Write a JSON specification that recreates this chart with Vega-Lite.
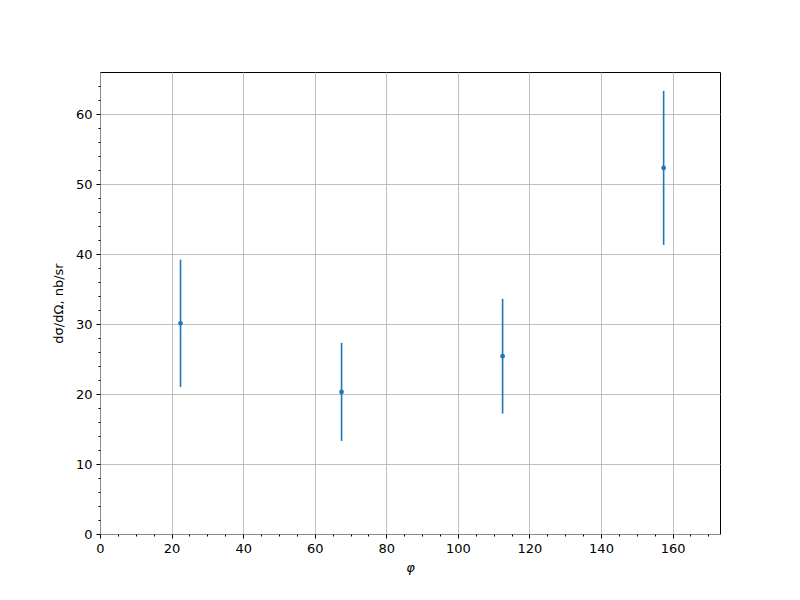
{
  "$schema": "https://vega.github.io/schema/vega-lite/v6.json",
  "width": 620,
  "height": 462,
  "autosize": {"type": "none"},
  "padding": {"left": 100, "top": 72, "right": 80, "bottom": 66},
  "background": "white",
  "config": {
    "view": {"stroke": "black", "strokeWidth": 1},
    "axis": {
      "labelFont": "DejaVu Sans",
      "titleFont": "DejaVu Sans",
      "labelFontSize": 13,
      "titleFontSize": 13,
      "titleFontWeight": "normal",
      "labelColor": "black",
      "titleColor": "black",
      "labelFlush": false,
      "domain": false,
      "tickColor": "black",
      "gridColor": "#b0b0b0",
      "gridWidth": 0.8
    }
  },
  "data": {
    "values": [
      {"phi": 22.5, "xs": 30.1, "err": 9.1},
      {"phi": 67.5, "xs": 20.3, "err": 7.0},
      {"phi": 112.5, "xs": 25.4, "err": 8.2},
      {"phi": 157.5, "xs": 52.3, "err": 11.0}
    ]
  },
  "transform": [
    {"calculate": "datum.xs - datum.err", "as": "lo"},
    {"calculate": "datum.xs + datum.err", "as": "hi"}
  ],
  "resolve": {"axis": {"x": "independent", "y": "independent"}},
  "layer": [
    {
      "mark": {"type": "rule", "color": "#1f77b4", "strokeWidth": 1.6},
      "encoding": {
        "x": {
          "field": "phi", "type": "quantitative",
          "scale": {"domain": [0, 173.25], "nice": false, "zero": false},
          "axis": {
            "orient": "bottom",
            "values": [0, 20, 40, 60, 80, 100, 120, 140, 160],
            "title": "φ",
            "titleFontStyle": "italic",
            "titlePadding": 6,
            "tickSize": 4,
            "labelPadding": 4,
            "grid": true,
            "format": "d"
          }
        },
        "y": {
          "field": "lo", "type": "quantitative",
          "scale": {"domain": [0, 66], "nice": false},
          "axis": {
            "orient": "left",
            "values": [0, 10, 20, 30, 40, 50, 60],
            "title": "dσ/dΩ, nb/sr",
            "titlePadding": 10,
            "tickSize": 4,
            "labelPadding": 4,
            "grid": true,
            "format": "d"
          }
        },
        "y2": {"field": "hi"}
      }
    },
    {
      "mark": {"type": "point", "filled": true, "size": 22, "color": "#1f77b4", "opacity": 1},
      "encoding": {
        "x": {
          "field": "phi", "type": "quantitative",
          "axis": {
            "orient": "bottom",
            "values": [5, 10, 15, 25, 30, 35, 45, 50, 55, 65, 70, 75, 85, 90, 95, 105, 110, 115, 125, 130, 135, 145, 150, 155, 165, 170],
            "labels": false,
            "title": null,
            "tickSize": 2,
            "grid": false
          }
        },
        "y": {
          "field": "xs", "type": "quantitative",
          "axis": {
            "orient": "left",
            "values": [2, 4, 6, 8, 12, 14, 16, 18, 22, 24, 26, 28, 32, 34, 36, 38, 42, 44, 46, 48, 52, 54, 56, 58, 62, 64],
            "labels": false,
            "title": null,
            "tickSize": 2,
            "grid": false
          }
        }
      }
    }
  ]
}
